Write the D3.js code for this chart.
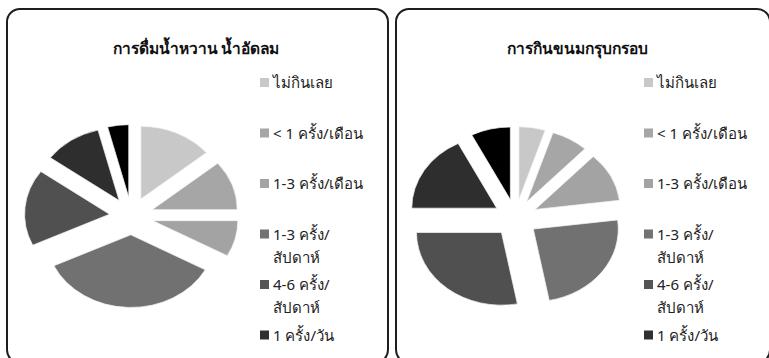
<!DOCTYPE html>
<html>
<head>
<meta charset="utf-8">
<script src="https://cdn.jsdelivr.net/npm/d3@7"></script>
<style>
  body { margin: 0; background: #fff; }
  svg { display: block; }
</style>
</head>
<body>
<svg id="chart"></svg>
<script>
const width = 769, height = 358;

// slice categories (the last one does not fit in the legend)
const categories = ["ไม่กินเลย", "< 1 ครั้ง/เดือน", "1-3 ครั้ง/เดือน", "1-3 ครั้ง/\nสัปดาห์", "4-6 ครั้ง/\nสัปดาห์", "1 ครั้ง/วัน", "> 1 ครั้ง/วัน"];
const drinkValues = [14, 11, 8, 35, 17, 11, 4];
const snackValues = [5, 7, 11, 24, 28, 17.5, 7.5];
const titles = ["การดื่มน้ำหวาน น้ำอัดลม", "การกินขนมกรุบกรอบ"];
const colors = ["#c8c8c8", "#a6a6a6", "#a3a3a3", "#717171", "#505050", "#2e2e2e", "#000000"];
const legendColors = ["#c8c8c8", "#a6a6a6", "#a3a3a3", "#737373", "#555555", "#303030"];
const legendCount = 6;

const svg = d3.select("#chart")
              .attr("width", width)
              .attr("height", height);

const panels = [
  { x: 7, w: 381, cx: 131.5, cy: 216, lx: 260, values: drinkValues, title: titles[0], tx: 196 },
  { x: 396, w: 374, cx: 515.5, cy: 218, lx: 644, values: snackValues, title: titles[1], tx: 577 }
];

const radius = 85, explode = 22, squash = 0.855;

const pie = d3.pie()
              .sort(null)
              .value(d => d);

const arc = d3.arc()
              .innerRadius(0)
              .outerRadius(radius);

panels.forEach(p => {
  const g = svg.append("g");

  g.append("rect")
   .attr("x", p.x)
   .attr("y", 9)
   .attr("width", p.w)
   .attr("height", 354)
   .attr("rx", 13)
   .attr("fill", "#fff")
   .attr("stroke", "#1e1e1e")
   .attr("stroke-width", 2);

  g.append("text")
   .attr("x", p.tx)
   .attr("y", 54)
   .attr("text-anchor", "middle")
   .style("font-family", "'Liberation Serif', 'DejaVu Serif', serif")
   .style("font-weight", "bold")
   .style("font-size", "15.5px")
   .style("fill", "#111")
   .text(p.title);

  // exploded pie, squashed a little vertically like the original
  const pieG = g.append("g")
                .attr("transform", `translate(${p.cx},${p.cy}) scale(1,${squash})`);

  pieG.selectAll("path")
      .data(pie(p.values))
      .enter()
      .append("path")
      .attr("d", arc)
      .attr("transform", d => {
          const a = (d.startAngle + d.endAngle) / 2;
          return `translate(${Math.sin(a) * explode},${-Math.cos(a) * explode})`;
      })
      .attr("fill", (d, i) => colors[i])
      .attr("stroke", "#f4f4f4")
      .attr("stroke-width", 0.8);

  const legend = g.selectAll(".legend")
                  .data(categories.slice(0, legendCount))
                  .enter()
                  .append("g")
                  .attr("class", "legend")
                  .attr("transform", (d, i) => `translate(${p.lx},${83 + i * 50.5})`);

  legend.append("rect")
        .attr("x", 0)
        .attr("y", -5)
        .attr("width", 9)
        .attr("height", 9)
        .attr("fill", (d, i) => legendColors[i]);

  legend.each(function(d) {
      const lines = d.split("\n");
      const t = d3.select(this)
                  .append("text")
                  .style("font-family", "'Noto Sans', 'Open Sans', sans-serif")
                  .style("font-size", "15px")
                  .style("fill", "#222");
      lines.forEach((line, j) => {
          t.append("tspan")
           .attr("x", 13)
           .attr("y", 5 + j * 23)
           .text(line);
      });
  });
});
</script>
</body>
</html>
